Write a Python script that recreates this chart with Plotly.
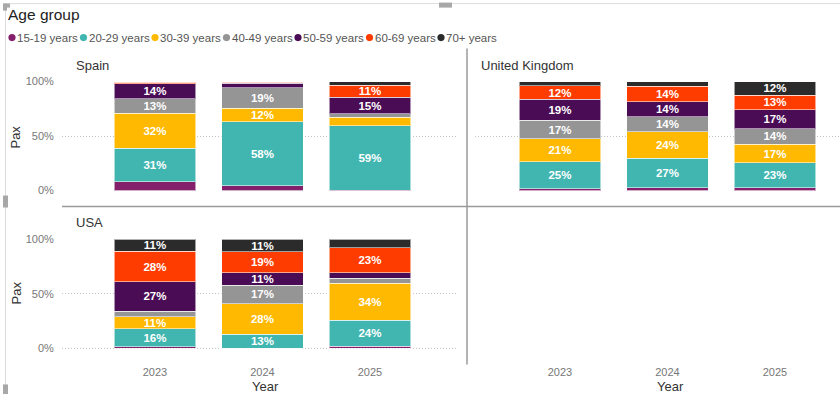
import plotly.graph_objects as go

W, H = 840, 394

age_groups = ["15-19 years", "20-29 years", "30-39 years", "40-49 years",
              "50-59 years", "60-69 years", "70+ years"]
colors = ["#84206B", "#41B6B0", "#FFB900", "#959595", "#4A0C54", "#FF3C00", "#2B2B2B"]
years = ["2023", "2024", "2025"]
countries = ["Spain", "United Kingdom", "USA"]

# share of pax (%) per age group (rows) across years (columns)
spain_values = [[8.0, 4.5, 0.3], [31.0, 58.5, 59.0], [32.0, 12.3, 8.0], [13.0, 19.0, 3.0],
                [14.0, 4.0, 15.4], [1.5, 1.2, 10.8], [0.5, 0.5, 3.5]]
uk_values = [[1.5, 2.5, 2.4], [24.8, 27.0, 23.0], [21.0, 24.4, 17.0], [17.0, 14.0, 14.4],
             [19.4, 13.6, 17.4], [12.4, 14.4, 13.4], [3.9, 4.1, 12.4]]
usa_values = [[1.5, 0.3, 1.8], [16.4, 12.8, 24.2], [11.0, 27.8, 34.0], [5.4, 17.3, 4.5],
              [26.8, 11.2, 5.0], [28.2, 19.4, 23.0], [10.7, 11.2, 7.5]]

y_ticks = [0, 50, 100]
y_ticktext = ["0%", "50%", "100%"]

FONT = "Segoe UI, Liberation Sans, Arial, sans-serif"

# observed vertical mapping of the rendered page (screen_y = S * set_y + T)
S, T = 0.97, 5.4


def xp(px):
    return px / W


def yp(py):
    return 1 - ((py - T) / S) / H


fig = go.Figure()

panels = [(spain_values, "x", "y"), (uk_values, "x2", "y2"), (usa_values, "x3", "y3")]
for vals, xa, ya in panels:
    for name, col, v in zip(age_groups, colors, vals):
        fig.add_trace(go.Bar(
            x=years, y=v, name=name, xaxis=xa, yaxis=ya,
            marker=dict(color=col, line=dict(color="rgba(255,255,255,0.55)", width=1)),
            text=[f"{round(val)}%" if val >= 10 else "" for val in v],
            textposition="inside", insidetextanchor="middle", textangle=0,
            constraintext="none",
            textfont=dict(color="white", size=11.5, family=FONT, weight="bold"),
            showlegend=False, hoverinfo="name+y",
        ))

# empty fourth cell keeps its year axis
fig.add_trace(go.Scatter(x=years, y=[None, None, None], xaxis="x4", yaxis="y4",
                         showlegend=False, hoverinfo="skip"))

tickfont = dict(family=FONT, size=11, color="#777")
grid = dict(showgrid=True, gridcolor="#c4c4c4", griddash="1px,2px", gridwidth=1,
            zeroline=False, showline=False)

left_dom = [xp(62), xp(458)]
right_dom = [xp(475), 1.0]
left_rng = [-0.865, -0.865 + 396 / 107.5]
right_rng = [-0.79, -0.79 + 365 / 107.5]
top_dom = [yp(190), yp(81)]
bot_dom = [yp(364), yp(239)]
bot_rng = [-(364 - 348) / 1.09, 100]

common_x = dict(type="category", showgrid=False, zeroline=False, showline=False,
                tickfont=tickfont, ticks="", fixedrange=True)

fig.update_layout(
    width=W, height=H, margin=dict(l=0, r=0, t=0, b=0),
    paper_bgcolor="white", plot_bgcolor="white",
    barmode="stack", bargap=0.24,
    font=dict(family=FONT, color="#333"),
    xaxis=dict(domain=left_dom, range=left_rng, anchor="y", showticklabels=False, **common_x),
    xaxis2=dict(domain=right_dom, range=right_rng, anchor="y2", showticklabels=False, **common_x),
    xaxis3=dict(domain=left_dom, range=left_rng, anchor="y3", **common_x),
    xaxis4=dict(domain=right_dom, range=right_rng, anchor="y4", **common_x),
    yaxis=dict(domain=top_dom, range=[0, 100], anchor="x", tickvals=y_ticks, ticktext=y_ticktext,
               tickfont=tickfont, ticks="outside", ticklen=5, tickcolor="rgba(0,0,0,0)", **grid),
    yaxis2=dict(domain=top_dom, range=[0, 100], anchor="x2", tickvals=y_ticks,
                showticklabels=False, **grid),
    yaxis3=dict(domain=bot_dom, range=bot_rng, anchor="x3", tickvals=y_ticks, ticktext=y_ticktext,
                tickfont=tickfont, ticks="outside", ticklen=5, tickcolor="rgba(0,0,0,0)", **grid),
    yaxis4=dict(domain=bot_dom, range=bot_rng, anchor="x4", visible=False),
    uniformtext=dict(minsize=8, mode="show"),
)

annotations = []
shapes = []

# panel titles
for text, x, y in [(countries[0], 74, 65), (countries[1], 479, 65), (countries[2], 74, 222)]:
    annotations.append(dict(text=text, x=xp(x), y=yp(y), xref="paper", yref="paper",
                            xanchor="left", yanchor="middle", showarrow=False,
                            font=dict(size=13, color="#333")))
# axis titles
for y in (137, 293):
    annotations.append(dict(text="Pax", x=xp(16), y=yp(y), xref="paper", yref="paper",
                            xanchor="center", yanchor="middle", textangle=-90, showarrow=False,
                            font=dict(size=13, color="#333")))
for x in (265, 670):
    annotations.append(dict(text="Year", x=xp(x), y=yp(386), xref="paper", yref="paper",
                            xanchor="center", yanchor="middle", showarrow=False,
                            font=dict(size=13, color="#333")))

# legend
annotations.append(dict(text="Age group", x=xp(6), y=yp(14), xref="paper", yref="paper",
                        xanchor="left", yanchor="middle", showarrow=False,
                        font=dict(size=15.5, color="#222")))
for i, (name, col) in enumerate(zip(age_groups, colors)):
    cx = 12 + 71.5 * i
    shapes.append(dict(type="circle", xref="paper", yref="paper",
                       x0=xp(cx - 3.6), x1=xp(cx + 3.6), y0=yp(40.6), y1=yp(33.4),
                       fillcolor=col, line=dict(width=0)))
    annotations.append(dict(text=name, x=xp(cx + 3), y=yp(37), xref="paper", yref="paper",
                            xanchor="left", yanchor="middle", showarrow=False,
                            font=dict(size=11.5, color="#555")))

# panel dividers
shapes.append(dict(type="line", xref="paper", yref="paper", x0=xp(467), x1=xp(467),
                   y0=yp(48), y1=yp(364), line=dict(color="#9a9a9a", width=1.5)))
shapes.append(dict(type="line", xref="paper", yref="paper", x0=xp(62), x1=1,
                   y0=yp(206), y1=yp(206), line=dict(color="#9a9a9a", width=1.5)))
# visual frame and handles
shapes.append(dict(type="line", xref="paper", yref="paper", x0=xp(5), x1=1,
                   y0=yp(3), y1=yp(3), line=dict(color="#dcdcdc", width=1)))
shapes.append(dict(type="line", xref="paper", yref="paper", x0=xp(5.5), x1=xp(5.5),
                   y0=yp(3), y1=yp(394), line=dict(color="#dcdcdc", width=1)))
for x0, y0, x1, y1 in [(3, 3, 10, 7), (3, 3, 7, 10), (439, 2, 452, 7),
                       (3, 195, 8, 207), (3, 384, 8, 394)]:
    shapes.append(dict(type="rect", xref="paper", yref="paper", x0=xp(x0), x1=xp(x1),
                       y0=yp(y1), y1=yp(y0), fillcolor="#a8a8a8", line=dict(width=0)))

fig.update_layout(annotations=annotations, shapes=shapes)

fig.write_html(
    "out.html",
    config={"displayModeBar": False},
    post_script="document.body.style.margin='0';document.body.style.overflow='hidden';",
)
